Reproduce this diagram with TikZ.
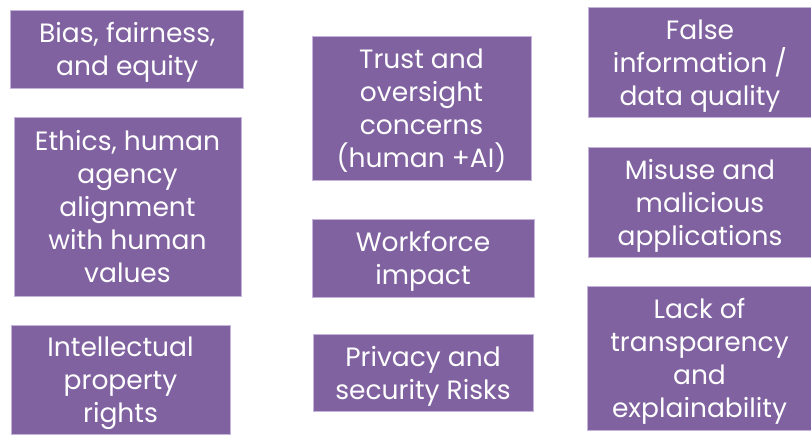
\documentclass[tikz,border=0pt]{standalone}
\usepackage{fontspec}
\setmainfont{Poppins}
\definecolor{riskfill}{RGB}{128,98,160}
\definecolor{riskedge}{RGB}{196,180,220}
% struts for first and last line, keep the text centred by line metrics
\newcommand{\rst}{\rule{0pt}{28pt}}
\newcommand{\rsb}{\rule[-7.5pt]{0pt}{7.5pt}}
\tikzset{
  risk/.style={fill=riskfill, draw=riskedge, line width=0.8pt, text=white,
    align=center, inner sep=0pt,
    font=\fontsize{26.5}{33}\selectfont}
}
\begin{document}
\begin{tikzpicture}[x=1pt,y=-1pt]
  \useasboundingbox (0,0) rectangle (811,435);
  \clip (0,0) rectangle (811,435);

  % left column
  \node[risk, minimum width=233pt, minimum height=78pt] (bias) at (127.3,49)
    {\rst Bias, fairness,\\and equity\rsb};
  \node[risk, minimum width=227pt, minimum height=179pt] (ethics) at (127.5,206.5)
    {\rst Ethics, human\\agency\\alignment\\with human\\values\rsb};
  \node[risk, minimum width=219pt, minimum height=109pt] (ip) at (120.5,379.5)
    {\rst Intellectual\\property\\rights\rsb};

  % middle column
  \node[risk, minimum width=219pt, minimum height=144pt] (trust) at (421.5,108)
    {\rst Trust and\\oversight\\concerns\\(human +AI)\rsb};
  \node[risk, minimum width=222pt, minimum height=78pt] (work) at (423,258)
    {\rst Workforce\\impact\rsb};
  \node[risk, minimum width=220pt, minimum height=77pt] (privacy) at (423,372.5)
    {\rst Privacy and\\security Risks\rsb};

  % right column
  \node[risk, minimum width=224pt, minimum height=110pt] (false) at (700,62)
    {\rst False\\information /\\data quality\rsb};
  \node[risk, minimum width=224pt, minimum height=110pt] (misuse) at (700,202)
    {\rst Misuse and\\malicious\\applications\rsb};
  \node[risk, minimum width=225pt, minimum height=144pt] (lack) at (699.5,358)
    {\rst Lack of\\transparency\\and\\explainability\rsb};
\end{tikzpicture}
\end{document}
